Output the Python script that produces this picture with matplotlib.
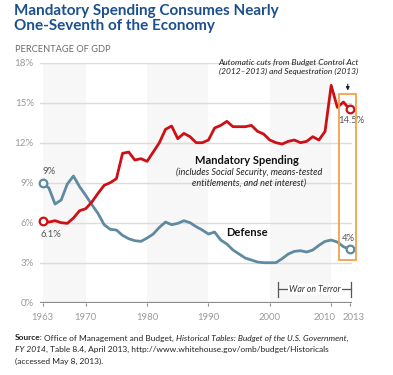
import matplotlib
matplotlib.use("Agg")
import matplotlib.pyplot as plt
from matplotlib.patches import Rectangle
from matplotlib.transforms import ScaledTranslation

plt.rcParams['font.family'] = ['Lato', 'DejaVu Sans']

# ---- data (percentage of GDP) ----
years = list(range(1963, 2014))
mandatory = [6.1, 6.05, 6.15, 6.0, 5.95, 6.35, 6.9, 7.05, 7.55, 8.2,
             8.8, 9.0, 9.3, 11.2, 11.3, 10.7, 10.8, 10.6, 11.3, 12.0,
             13.0, 13.25, 12.3, 12.7, 12.45, 12.0, 12.0, 12.2, 13.1, 13.3,
             13.6, 13.2, 13.2, 13.2, 13.3, 12.85, 12.65, 12.2, 12.0, 11.9,
             12.1, 12.2, 12.0, 12.1, 12.45, 12.2, 12.85, 16.3, 14.65, 15.05,
             14.5]
defense = [9.0, 8.6, 7.4, 7.7, 8.9, 9.5, 8.7, 8.05, 7.35, 6.7,
           5.85, 5.5, 5.45, 5.05, 4.8, 4.65, 4.6, 4.85, 5.15, 5.65,
           6.05, 5.85, 5.95, 6.15, 6.0, 5.7, 5.45, 5.15, 5.3, 4.7,
           4.4, 3.95, 3.65, 3.35, 3.2, 3.05, 3.0, 3.0, 3.0, 3.3,
           3.65, 3.85, 3.9, 3.8, 3.95, 4.3, 4.6, 4.7, 4.55, 4.2,
           4.0]
xticks = [1963, 1970, 1980, 1990, 2000, 2010, 2013]
yticks = [0, 3, 6, 9, 12, 15, 18]
bands = [(1963, 1970), (1980, 1990), (2000, 2010)]

RED = '#cc1016'
BLUE = '#5f8aa0'
ORANGE = '#f5a04a'
GRAY = '#9a9a9a'

fig = plt.figure(figsize=(3.93, 3.75), dpi=100)
ax = fig.add_axes([0.1018, 0.1928, 0.794, 0.64])
ax.set_xlim(1962.55, 2013.4)
ax.set_ylim(0, 18)

# decade shading
for a, b in bands:
    ax.axvspan(a, b, color='#f7f7f7', lw=0, zorder=0)

# gridlines
for v in yticks[1:]:
    ax.axhline(v, color='#dcdcdc', lw=1.0, zorder=1)
ax.axhline(0, color='#8c8c8c', lw=1.6, zorder=2)

for s in ax.spines.values():
    s.set_visible(False)
ax.patch.set_alpha(0)

ax.set_yticks(yticks)
ax.set_yticklabels([f'{v}%' for v in yticks])
ax.set_xticks(xticks)
ax.set_xticklabels([str(y) for y in xticks])
ax.tick_params(axis='y', length=0, pad=4.5, labelsize=7, labelcolor=GRAY)
ax.tick_params(axis='x', length=2.5, width=0.8, color='#8c8c8c', pad=5,
               labelsize=6.8, labelcolor=GRAY)
for lab in ax.get_xticklabels():
    if lab.get_text() == '2010':
        lab.set_transform(lab.get_transform() + ScaledTranslation(-4.8 / 72, 0, fig.dpi_scale_trans))
    if lab.get_text() == '2013':
        lab.set_transform(lab.get_transform() + ScaledTranslation(3.0 / 72, 0, fig.dpi_scale_trans))

# lines
ax.plot(years, defense, color=BLUE, lw=2.0, zorder=4, solid_joinstyle='round')
ax.plot(years, mandatory, color=RED, lw=2.0, zorder=5, solid_joinstyle='round')
for ser, c in [(mandatory, RED), (defense, BLUE)]:
    ax.plot([years[0], years[-1]], [ser[0], ser[-1]], 'o', ms=5.5, mfc='white',
            mec=c, mew=1.6, zorder=6, clip_on=False)

# value labels
lab_kw = dict(fontsize=6.8, color='#555555')
ax.text(1963.0, 9.85, '9%', ha='left', va='center', **lab_kw)
ax.text(1962.6, 5.15, '6.1%', ha='left', va='center', **lab_kw)
ax.text(2013.3, 13.65, '14.5%', ha='center', va='center', **lab_kw)
ax.text(2012.75, 4.8, '4%', ha='center', va='center', **lab_kw)

# series labels
ax.text(1996.3, 10.7, 'Mandatory Spending', ha='center', va='center',
        fontsize=8, fontweight='bold', color='#111111')
ax.text(1996.6, 9.4, '(includes Social Security, means-tested\nentitlements, and net interest)',
        ha='center', va='center', fontsize=6.6, style='italic', color='#222222',
        linespacing=1.15)
ax.text(1996.3, 5.25, 'Defense', ha='center', va='center',
        fontsize=8, fontweight='bold', color='#111111')

# sequestration box + note
ax.add_patch(Rectangle((2011.3, 3.2), 2.68, 12.43, fill=False, ec=ORANGE,
                       lw=1.3, zorder=7, clip_on=False))
ax.annotate('', xy=(2012.7, 15.7), xytext=(2012.7, 16.6),
            arrowprops=dict(arrowstyle='-|>', color='#222222', lw=0.8,
                            mutation_scale=5), annotation_clip=False)
ax.text(2003.0, 17.68, 'Automatic cuts from Budget Control Act\n(2012\u20132013) and Sequestration (2013)',
        ha='center', va='center', fontsize=6.0, style='italic', color='#222222',
        linespacing=1.25)

# war on terror bracket
ax.plot([2001.3, 2013.2], [1.0, 1.0], color='#555555', lw=0.9, zorder=3, clip_on=False)
for xx in (2001.3, 2013.2):
    ax.plot([xx, xx], [0.45, 1.58], color='#555555', lw=0.9, zorder=3, clip_on=False)
ax.text(2007.4, 1.0, 'War on Terror', ha='center', va='center', fontsize=6.3,
        style='italic', color='#333333', zorder=4,
        bbox=dict(boxstyle='square,pad=0.15', fc='white', ec='none'))

# title
fig.text(0.036, 0.99, 'Mandatory Spending Consumes Nearly\nOne-Seventh of the Economy',
         ha='left', va='top', fontsize=11.0, fontweight='bold', color='#1c4f8e',
         linespacing=1.12)
fig.text(0.038, 0.868, 'PERCENTAGE OF GDP', ha='left', va='center',
         fontsize=6.7, color='#6b6b6b')

# source note (mixed styles)
renderer = fig.canvas.get_renderer()


def draw_runs(x, y, runs, size=6.0):
    gap = size * 0.26 / 72 * fig.dpi / fig.bbox.width
    for txt, kw, space in runs:
        t = fig.text(x, y, txt, fontsize=size, va='baseline', color='#222222', **kw)
        bb = t.get_window_extent(renderer)
        x += bb.width / fig.bbox.width + gap * space


draw_runs(0.038, 0.092, [('Source:', dict(fontweight='bold'), 0.4),
                         ('Office of Management and Budget,', {}, 1),
                         ('Historical Tables: Budget of the U.S. Government,', dict(style='italic'), 0)])
draw_runs(0.038, 0.061, [('FY 2014', dict(style='italic'), 0),
                         (', Table 8.4, April 2013, http://www.whitehouse.gov/omb/budget/Historicals', {}, 0)])
draw_runs(0.038, 0.031, [('(accessed May 8, 2013).', {}, 0)])

fig.savefig('out.png', dpi=100)
